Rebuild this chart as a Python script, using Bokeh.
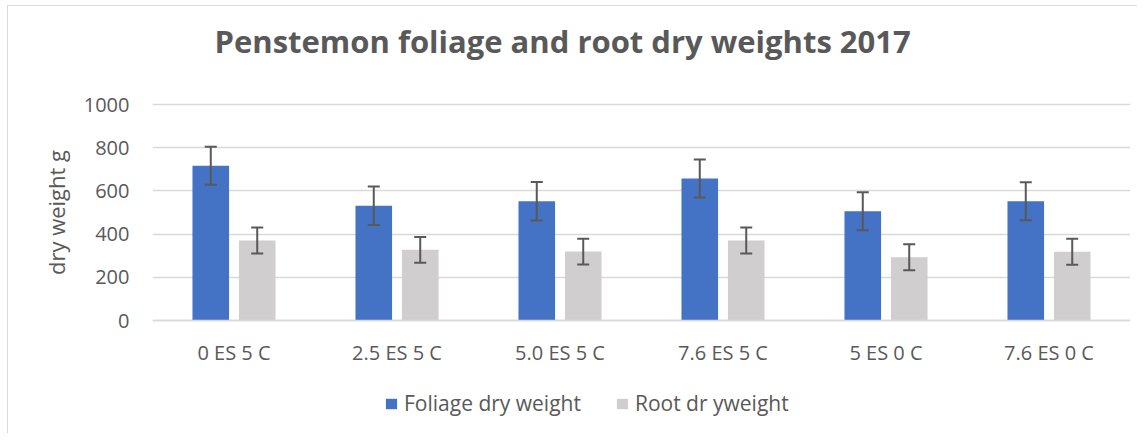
from bokeh.plotting import figure
from bokeh.models import (ColumnDataSource, FactorRange, Range1d, Whisker, TeeHead, Legend,
                          LegendItem, FixedTicker, Label)
from bokeh.transform import dodge
from bokeh.embed import file_html
from bokeh.resources import INLINE

title_text = "Penstemon foliage and root dry weights 2017"
categories = ["0 ES 5 C", "2.5 ES 5 C", "5.0 ES 5 C", "7.6 ES 5 C", "5 ES 0 C", "7.6 ES 0 C"]
foliage = [716, 531, 552, 657, 506, 552]
foliage_err = [88, 89, 89, 88, 88, 88]
root = [370, 327, 319, 370, 293, 318]
root_err = [60, 60, 60, 60, 60, 60]
y_ticks = [0, 200, 400, 600, 800, 1000]

src = ColumnDataSource(dict(
    cat=categories,
    foliage=foliage,
    f_up=[v + e for v, e in zip(foliage, foliage_err)],
    f_lo=[v - e for v, e in zip(foliage, foliage_err)],
    root=root,
    r_up=[v + e for v, e in zip(root, root_err)],
    r_lo=[v - e for v, e in zip(root, root_err)],
))

FONT = "Open Sans"
TXT = "#595959"

# frame spans the full chart height; the value axis keeps 216 px per 1000 g
PX_PER_UNIT = 0.216
FRAME_H = 424
TOP_PAD = 104  # pixels between frame top and the 1000 line
y_hi = y_ticks[-1] + TOP_PAD / PX_PER_UNIT
y_lo = y_ticks[-1] - (FRAME_H - TOP_PAD) / PX_PER_UNIT

p = figure(x_range=FactorRange(*categories, range_padding=0), y_range=Range1d(y_lo, y_hi),
           frame_width=978, frame_height=FRAME_H, output_backend="svg", toolbar_location=None,
           min_border_left=152, min_border_right=7, min_border_top=0, min_border_bottom=9)
p.styles = {"background": "linear-gradient(#D9D9D9,#D9D9D9) 7px 5px / 1px 100% no-repeat, "
                          "linear-gradient(#D9D9D9,#D9D9D9) 7px 5px / 100% 1px no-repeat, white"}

p.outline_line_color = None
p.background_fill_alpha = 0
p.border_fill_alpha = 0

off = 0.1425
bw = 0.2245
r1 = p.vbar(x=dodge("cat", -off, range=p.x_range), top="foliage", width=bw, source=src,
            fill_color="#4472C4", line_color=None)
r2 = p.vbar(x=dodge("cat", off, range=p.x_range), top="root", width=bw, source=src,
            fill_color="#D0CECE", line_color=None)

for base, up, lo in [(-off, "f_up", "f_lo"), (off, "r_up", "r_lo")]:
    w = Whisker(base=dodge("cat", base, range=p.x_range), upper=up, lower=lo, source=src,
                level="overlay", line_color="#595959", line_width=2,
                upper_head=TeeHead(size=12, line_color="#595959", line_width=2),
                lower_head=TeeHead(size=12, line_color="#595959", line_width=2))
    p.add_layout(w)

p.xgrid.grid_line_color = None
p.ygrid.grid_line_color = "#D9D9D9"
p.ygrid.grid_line_width = 1.3
p.yaxis.ticker = FixedTicker(ticks=y_ticks)

for ax in (p.xaxis, p.yaxis):
    ax.major_tick_line_color = None
    ax.minor_tick_line_color = None
    ax.major_tick_out = 0
    ax.major_tick_in = 0
    ax.major_label_text_font = FONT
    ax.major_label_text_font_size = "20px"
    ax.major_label_text_color = TXT
p.xaxis.fixed_location = 0
p.xaxis.axis_line_color = "#D9D9D9"
p.xaxis.axis_line_width = 1.3
p.yaxis.axis_line_color = None
p.xaxis.major_label_standoff = 18
p.yaxis.major_label_standoff = 23

p.yaxis.axis_label = "dry weight g"
p.yaxis.axis_label_text_font = FONT
p.yaxis.axis_label_text_font_size = "22px"
p.yaxis.axis_label_text_font_style = "normal"
p.yaxis.axis_label_text_color = TXT
p.yaxis.axis_label_standoff = 10

title = Label(text=title_text, x=62, y=383.3, x_units="screen", y_units="screen",
              text_font=FONT, text_font_size="31px", text_font_style="bold",
              text_color=TXT, text_align="left", text_baseline="alphabetic")
p.add_layout(title)

legend = Legend(items=[LegendItem(label="Foliage dry weight", renderers=[r1]),
                       LegendItem(label="Root dr yweight", renderers=[r2])],
                orientation="horizontal", location=(232, 7),
                label_text_font=FONT, label_text_font_size="21px", label_text_color=TXT,
                glyph_width=14, glyph_height=13, label_standoff=6, spacing=34,
                padding=0, margin=0, border_line_color=None, background_fill_alpha=0)
p.add_layout(legend, "center")

open("out.html", "w").write(file_html(p, INLINE))
